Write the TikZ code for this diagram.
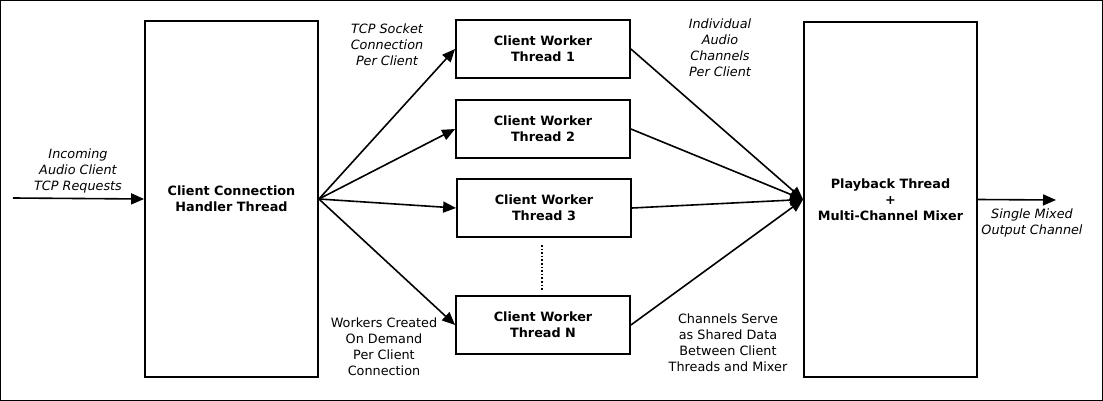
\documentclass[tikz,border=0pt]{standalone}
\usepackage{fontspec}
\setmainfont{DejaVu Sans}
\usetikzlibrary{arrows.meta}

\begin{document}
\begin{tikzpicture}[x=1pt, y=-1pt,
  box/.style={draw, line width=1.8pt, align=center, inner sep=0pt,
    font=\fontsize{12.8}{16}\selectfont\bfseries},
  note/.style={align=center, inner sep=0pt, font=\fontsize{12.8}{16}\selectfont},
  inote/.style={note, font=\fontsize{12.8}{16}\selectfont\itshape},
  flow/.style={line width=1.6pt, -{Triangle[length=13pt,width=11pt]}}]
\useasboundingbox (0,0) rectangle (1103,401);
\draw[line width=1pt] (0.5,0.5) rectangle (1102.5,400.5);
% threads
\node[box, minimum width=173pt, minimum height=356pt] (handler) at (231.5,199) {Client Connection\\Handler Thread};
\node[box, minimum width=174pt, minimum height=58pt] (worker1) at (543,49) {Client Worker\\Thread 1};
\node[box, minimum width=174pt, minimum height=58pt] (worker2) at (543,129) {Client Worker\\Thread 2};
\node[box, minimum width=174pt, minimum height=58pt] (worker3) at (544,208) {Client Worker\\Thread 3};
\node[box, minimum width=174pt, minimum height=58pt] (workerN) at (543,325) {Client Worker\\Thread N};
\node[box, minimum width=173pt, minimum height=355pt] (mixer) at (890.5,199.5) {Playback Thread\\+\\Multi-Channel Mixer};
\coordinate (input) at (13,198);
\coordinate (output) at (1056,200);
% connectors
\draw[flow] (input) -- (handler.west);
\foreach \w in {worker1, worker2, worker3, workerN} {
  \draw[flow] (handler.east) -- (\w.west);
  \draw[flow] (\w.east) -- (mixer.west);
}
\draw[flow] (mixer.east) -- (output);
\draw[line width=1.6pt, dotted, shorten <=7pt, shorten >=5pt] ([xshift=-2pt]worker3.south) -- ([xshift=-1pt]workerN.north);
% labels
\node[inote] (lblin) at (78,171) {Incoming\\Audio Client\\TCP Requests};
\node[inote] (lblsock) at (387,45) {TCP Socket\\Connection\\Per Client};
\node[inote] (lblchan) at (720,48) {Individual\\Audio\\Channels\\Per Client};
\node[inote] (lblout) at (1032,223) {Single Mixed\\Output Channel};
\node[note] (lblwork) at (384,347) {Workers Created\\On Demand\\Per Client\\Connection};
\node[note] (lblshare) at (728,343) {Channels Serve\\as Shared Data\\Between Client\\Threads and Mixer};
\end{tikzpicture}
\end{document}
